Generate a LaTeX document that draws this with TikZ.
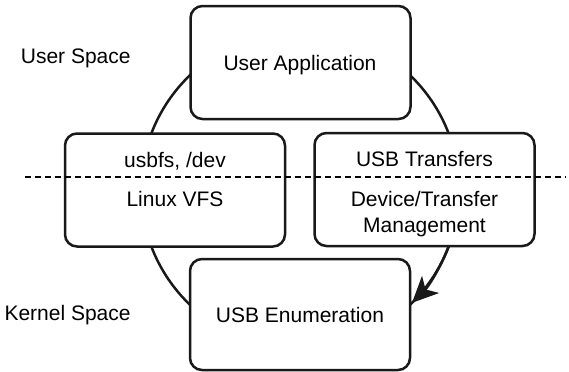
\documentclass[tikz,border=0pt]{standalone}
\usepackage{fontspec}
\setmainfont{Liberation Sans}
\usepackage{tikz}
\usetikzlibrary{arrows.meta, positioning, calc}
\tikzset{
    panel/.style={rectangle, draw=black!90, line width=1.25pt, rounded corners=6pt, fill=white, minimum width=110pt, minimum height=56.5pt, inner sep=0pt},
    caption/.style={anchor=base, font=\fontsize{10.5}{13}\selectfont, inner sep=0pt},
    spacelbl/.style={caption, anchor=base east},
    ring/.style={line width=1.25pt, color=black!90},
    flow/.style={ring, -{Stealth[length=13pt, width=12pt, inset=3.5pt]}},
    divider/.style={line width=1.3pt, dash pattern=on 3pt off 2pt}
}
\begin{document}
\begin{tikzpicture}[x=0.5pt, y=-0.5pt]
    \useasboundingbox (0,0) rectangle (569,371);
    \coordinate (hub) at (300,190);
    \draw [ring] (hub) circle[radius=159];

    \node (app)  [panel] at (300.5,62.5) {};
    \node (vfs)  [panel] at (175,190) {};
    \node (xfer) [panel] at (424.5,189.5) {};
    \node (enum) [panel, minimum height=55.5pt] at (300,314.5) {};

    \node (apptxt)  [caption] at (300,70) {User Application};
    \node (vfsup)   [caption] at (175,167) {usbfs, /dev};
    \node (vfslow)  [caption] at (175,206) {Linux VFS};
    \node (xferup)  [caption] at (424.5,166) {USB Transfers};
    \node (xferlow) [caption, align=center] at (424.5,232) {Device/Transfer\\Management};
    \node (enumtxt) [caption] at (300,322) {USB Enumeration};

    \node (usersp)   [spacelbl] at (131,63) {User Space};
    \node (kernelsp) [spacelbl] at (131,320) {Kernel Space};

    % user/kernel boundary
    \coordinate (cutl) at (25,177);
    \coordinate (cutr) at (566,177);
    \draw [divider] (cutl) -- (cutr);

    \draw [flow] ($(hub)+(20.7:159)$) arc[start angle=20.7, end angle=45.2, radius=159];
\end{tikzpicture}
\end{document}
